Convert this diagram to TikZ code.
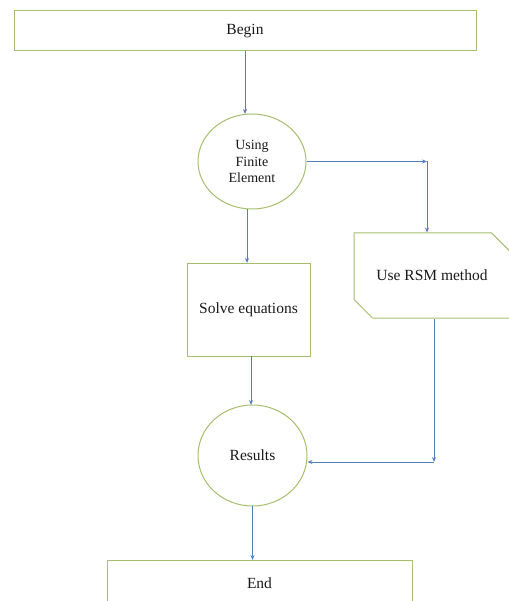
\documentclass[tikz,border=0pt]{standalone}
\usepackage{fontspec}
\setmainfont{Liberation Serif}
\usetikzlibrary{shapes.geometric,shapes.misc,arrows.meta}
\definecolor{boxgreen}{RGB}{165,190,110}
\definecolor{arrowblue}{RGB}{85,125,195}
\tikzset{
  x=1pt,y=1pt,
  every node/.style={font=\fontsize{15.5}{17}\selectfont, text=black!90},
  gbox/.style={draw=boxgreen, line width=1pt, rectangle, inner sep=0pt},
  gell/.style={draw=boxgreen, line width=1pt, ellipse, inner sep=0pt, align=center},
  conn/.style={draw=arrowblue, line width=1pt, -{Stealth[length=5pt,width=4pt]}}
}
\begin{document}
\begin{tikzpicture}
\useasboundingbox (0,0) rectangle (508,-601);
\node[gbox, minimum width=462, minimum height=40] (begin) at (245,-31) {Begin};
\node[gell, minimum width=108, minimum height=95, font=\fontsize{14}{16.5}\selectfont] (fe) at (252,-161.5) {Using\\Finite\\Element};
\node[gbox, minimum width=123, minimum height=93] (solve) at (248.5,-309.5) {Solve equations};
\node[draw=boxgreen, line width=1pt, chamfered rectangle, chamfered rectangle corners={north east,south west}, chamfered rectangle xsep=13pt, chamfered rectangle ysep=13pt, minimum width=156, minimum height=85, inner sep=0pt] (rsm) at (432,-275.5) {Use RSM method};
\node[gell, minimum width=109, minimum height=101] (res) at (252.5,-455.5) {Results};
\node[gbox, minimum width=305, minimum height=46] (end) at (259.5,-583) {End};
\coordinate (c1) at (427,-161.5);
\coordinate (c2) at (434,-462);
\draw[conn] (245,-51) -- (245,-114);
\draw[conn] (fe.east) -- (c1);
\draw[conn] (c1) -- (c1 |- rsm.north);
\draw[conn] (247,-209) -- (247,-263);
\draw[conn] (251,-356) -- (251,-405);
\draw[conn] (c2 |- rsm.south) -- (c2);
\draw[conn] (c2) -- (307.5,-462);
\draw[conn] (252.5,-506) -- (252.5,-560);
\end{tikzpicture}
\end{document}
